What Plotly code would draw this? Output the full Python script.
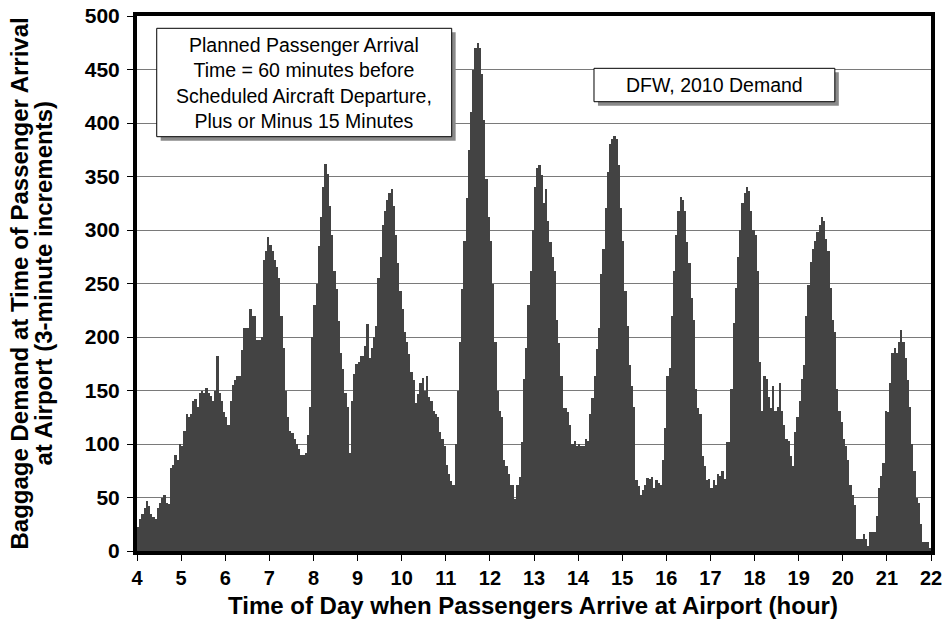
import plotly.graph_objects as go

# Baggage demand per 3-minute increment, one list per hour (20 bins each)
h04 = [22, 30, 35, 40, 47, 42, 35, 32, 30, 40, 45, 50, 52, 45, 44, 78, 80, 90, 85, 100]
h05 = [98, 112, 128, 125, 128, 140, 142, 135, 148, 150, 148, 152, 148, 145, 140, 150, 182, 148, 140, 130]
h06 = [125, 118, 140, 155, 160, 164, 164, 188, 208, 208, 208, 226, 220, 220, 197, 197, 200, 272, 280, 293]
h07 = [286, 280, 272, 265, 255, 220, 190, 150, 125, 112, 110, 105, 100, 95, 90, 90, 92, 108, 135, 200]
h08 = [230, 250, 285, 312, 340, 362, 352, 322, 295, 262, 245, 215, 185, 170, 148, 135, 92, 140, 165, 175]
h09 = [177, 182, 182, 192, 212, 180, 190, 200, 210, 255, 275, 305, 318, 328, 335, 338, 322, 295, 269, 243]
h10 = [226, 205, 195, 184, 167, 160, 138, 147, 157, 162, 150, 164, 144, 140, 131, 128, 125, 111, 105, 98]
h11 = [80, 72, 65, 62, 100, 150, 195, 245, 290, 330, 375, 410, 450, 470, 475, 470, 446, 403, 348, 312]
h12 = [290, 250, 195, 150, 131, 125, 85, 79, 72, 62, 62, 49, 62, 69, 102, 161, 190, 230, 262, 300]
h13 = [340, 358, 361, 351, 325, 338, 308, 289, 275, 262, 216, 194, 164, 134, 134, 130, 118, 100, 103, 98]
h14 = [100, 98, 98, 105, 103, 128, 143, 164, 189, 208, 259, 282, 321, 354, 380, 385, 388, 385, 361, 321]
h15 = [290, 243, 210, 174, 154, 135, 66, 61, 52, 57, 62, 68, 67, 69, 59, 66, 64, 62, 85, 115]
h16 = [164, 171, 220, 262, 295, 318, 331, 328, 318, 289, 269, 236, 216, 151, 134, 128, 89, 79, 66, 67]
h17 = [59, 66, 62, 72, 70, 75, 67, 102, 102, 151, 213, 246, 275, 300, 325, 335, 340, 336, 318, 300]
h18 = [295, 262, 177, 131, 164, 161, 144, 134, 154, 131, 135, 157, 131, 118, 105, 103, 89, 79, 111, 125]
h19 = [140, 161, 174, 220, 249, 270, 282, 290, 298, 305, 312, 308, 292, 280, 246, 216, 205, 151, 131, 121]
h20 = [105, 98, 85, 62, 52, 43, 11, 11, 11, 16, 11, 5, 18, 18, 18, 33, 59, 70, 82, 131]
h21 = [130, 157, 185, 190, 185, 195, 207, 195, 180, 160, 135, 100, 75, 50, 45, 25, 8, 8, 8, 3]

hours = list(range(4, 22))
hour_values = [h04, h05, h06, h07, h08, h09, h10, h11, h12, h13, h14, h15, h16, h17, h18, h19, h20, h21]
bin_minutes = 3

x_tick_labels = [str(h) for h in range(4, 23)]
y_ticks = list(range(0, 501, 50))

xs, ys = [], []
for h, vals in zip(hours, hour_values):
    for i, v in enumerate(vals):
        xs.append(h + (i + 0.5) * bin_minutes / 60)
        ys.append(v)

FONT = "Liberation Sans, Arial, sans-serif"

fig = go.Figure()
fig.add_trace(go.Bar(
    x=xs, y=ys, width=bin_minutes / 60,
    marker=dict(color="#434343", line=dict(width=0)),
    hoverinfo="x+y",
))

L, R, T, B = 137, 14, 16, 79
plot_w = 945 - L - R
plot_h = 630 - T - B

fig.update_layout(
    width=945, height=630,
    margin=dict(l=L, r=R, t=T, b=B, autoexpand=False),
    paper_bgcolor="white", plot_bgcolor="white",
    bargap=0, showlegend=False,
    font=dict(family=FONT, color="black"),
    xaxis=dict(
        range=[4, 22], tickmode="array",
        tickvals=list(range(4, 23)), ticktext=x_tick_labels,
        ticks="outside", ticklen=6, tickwidth=1, tickcolor="black",
        showline=True, linewidth=4, linecolor="black", mirror=True,
        showgrid=False, zeroline=False, automargin=False,
        ticklabeloverflow="allow",
        tickfont=dict(family=FONT, size=20, weight="bold", color="black"),
    ),
    yaxis=dict(
        range=[0, 500], tickmode="array", tickvals=y_ticks,
        ticks="outside", ticklen=6, tickwidth=1, tickcolor="black",
        showline=True, linewidth=4, linecolor="black", mirror=True,
        showgrid=True, gridcolor="#7a7a7a", gridwidth=1, zeroline=False,
        automargin=False, ticklabeloverflow="allow",
        tickfont=dict(family=FONT, size=21, weight="bold", color="black"),
        ticklabelstandoff=3,
    ),
)

# text boxes with drop shadows
dx, dy = 0.09, 3.7
boxes = [
    dict(x0=4.447, x1=11.134, y0=387.2, y1=488.5,
         text="Planned Passenger Arrival<br>Time = 60 minutes before<br>Scheduled Aircraft Departure,<br>Plus or Minus 15 Minutes"),
    dict(x0=14.36, x1=19.82, y0=419.9, y1=451.1, text="DFW, 2010 Demand"),
]
for b in boxes:
    fig.add_shape(type="rect", xref="x", yref="y",
                  x0=b["x0"] + dx, x1=b["x1"] + dx, y0=b["y0"] - dy, y1=b["y1"] - dy,
                  fillcolor="#8a8a8a", line=dict(width=0), layer="above")
    fig.add_shape(type="rect", xref="x", yref="y",
                  x0=b["x0"], x1=b["x1"], y0=b["y0"], y1=b["y1"],
                  fillcolor="white", line=dict(color="black", width=1), layer="above")
    fig.add_annotation(x=(b["x0"] + b["x1"]) / 2, y=(b["y0"] + b["y1"]) / 2,
                       xref="x", yref="y", text=b["text"], showarrow=False,
                       xanchor="center", yanchor="middle", align="center",
                       font=dict(family=FONT, size=19.5, color="black"))

# axis titles
fig.add_annotation(text="Time of Day when Passengers Arrive at Airport (hour)",
                   xref="paper", yref="paper", x=(533 - L) / plot_w, y=(551 - 605) / plot_h,
                   xanchor="center", yanchor="middle", showarrow=False,
                   font=dict(family=FONT, size=24, weight="bold", color="black"))
fig.add_annotation(text="Baggage Demand at Time of Passenger Arrival",
                   xref="paper", yref="paper", x=(19 - L) / plot_w, y=0.5,
                   xanchor="center", yanchor="middle", showarrow=False, textangle=-90,
                   font=dict(family=FONT, size=24, weight="bold", color="black"))
fig.add_annotation(text="at Airport (3-minute increments)",
                   xref="paper", yref="paper", x=(43 - L) / plot_w, y=0.5,
                   xanchor="center", yanchor="middle", showarrow=False, textangle=-90,
                   font=dict(family=FONT, size=24, weight="bold", color="black"))

# remove the browser's default 8px body margin so the figure sits at the page origin
fig.write_html("out.html", config={"displayModeBar": False},
               post_script="document.body.style.margin='0px';")
